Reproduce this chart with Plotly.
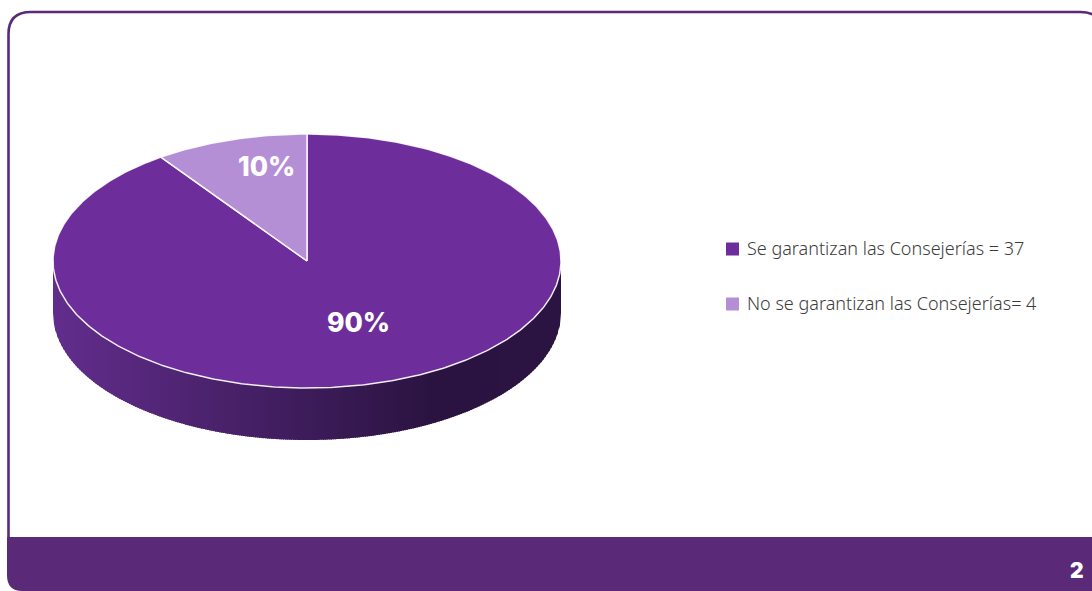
import math
import plotly.graph_objects as go

# ---- data ----
categories = ["Se garantizan las Consejerías = 37", "No se garantizan las Consejerías= 4"]
values = [37, 4]
pct_labels = ["90%", "10%"]
slice_colors = ["#6D2E9B", "#B58FD5"]
page_number = "2"

# ---- geometry (pixels of the page) ----
W, H = 1092, 591
CX, CY, RX, RY, DEPTH = 307, 261, 254, 127, 52
BAND = "#5A2A78"
RIM_STOPS = [(0.0, (98, 45, 140)), (0.75, (42, 19, 64)), (1.0, (44, 20, 66))]


def rim_color(t):
    for (a, ca), (b, cb) in zip(RIM_STOPS, RIM_STOPS[1:]):
        if t <= b:
            k = (t - a) / (b - a)
            return "rgb(%d,%d,%d)" % tuple(round(p + (q - p) * k) for p, q in zip(ca, cb))
    return "rgb(44,20,66)"


fig = go.Figure()

# rim of the disc, thin vertical strips shaded left to right
STEP = 2
for left in range(CX - RX, CX + RX, STEP):
    right = min(left + STEP + 1, CX + RX)
    xs = list(range(left, right + 1))
    top = [CY + RY * math.sqrt(max(0, 1 - ((x - CX) / RX) ** 2)) for x in xs]
    px = xs + xs[::-1]
    py = top + [t + DEPTH for t in top[::-1]]
    c = rim_color((left - CX + RX) / (2 * RX))
    fig.add_trace(go.Scatter(x=px, y=py, mode="lines", fill="toself", fillcolor=c,
                             line=dict(width=0), hoverinfo="skip", showlegend=False))

# top face: slices computed from the values, clockwise from 12 o'clock
total = sum(values)
start = 0.0
for name, val, col in zip(categories, values, slice_colors):
    sweep = 2 * math.pi * val / total
    n = max(8, int(sweep * 90))
    ang = [start + sweep * i / n for i in range(n + 1)]
    xs = [CX] + [CX + RX * math.sin(a) for a in ang] + [CX]
    ys = [CY] + [CY - RY * math.cos(a) for a in ang] + [CY]
    fig.add_trace(go.Scatter(x=xs, y=ys, mode="lines", fill="toself", fillcolor=col,
                             line=dict(color="rgba(255,255,255,0.9)", width=1.5),
                             name=name, hoverinfo="name", showlegend=False))
    start += sweep

shapes = [
    # card outline
    dict(type="path", xref="x", yref="y",
         path="M 8.5 540 L 8.5 34 Q 8.5 12 31 12 L 1080 12 Q 1103 12 1103 34 L 1103 540",
         line=dict(color=BAND, width=2.6), fillcolor="rgba(0,0,0,0)", layer="below"),
    # bottom band
    dict(type="path", xref="x", yref="y",
         path="M 7 537 L 1100 537 L 1100 591 L 22 591 Q 7 591 7 575 Z",
         line=dict(width=0), fillcolor=BAND, layer="above"),
]
LEG_Y = [249, 304]
for y, col in zip(LEG_Y, slice_colors):
    shapes.append(dict(type="rect", xref="x", yref="y", x0=726, x1=739, y0=y - 6.5, y1=y + 6.5,
                       line=dict(width=0), fillcolor=col))

annotations = [
    dict(x=x, y=y, xref="x", yref="y", text=t, showarrow=False,
         font=dict(family="Inter", size=26.5, color="white", weight=800))
    for x, y, t in [(358, 322, pct_labels[0]), (266, 166, pct_labels[1])]
]
for y, t in zip(LEG_Y, categories):
    annotations.append(dict(x=745, y=y - 1, xref="x", yref="y", text=t, showarrow=False, xanchor="left",
                            font=dict(family="Noto Sans", size=18, color="#3c3c3c", weight=300)))
annotations.append(dict(x=1077, y=570, xref="x", yref="y", text=page_number, showarrow=False,
                        font=dict(family="Inter", size=21, color="white", weight=900)))

fig.update_layout(
    width=W, height=H, autosize=False, margin=dict(l=0, r=0, t=0, b=0),
    paper_bgcolor="white", plot_bgcolor="white", showlegend=False,
    xaxis=dict(range=[0, W], visible=False, fixedrange=True),
    yaxis=dict(range=[H, 0], visible=False, fixedrange=True),
    shapes=shapes, annotations=annotations,
)
fig.write_html("out.html", config={"displayModeBar": False},
               post_script="document.body.style.margin='0';document.body.style.overflow='hidden';")
